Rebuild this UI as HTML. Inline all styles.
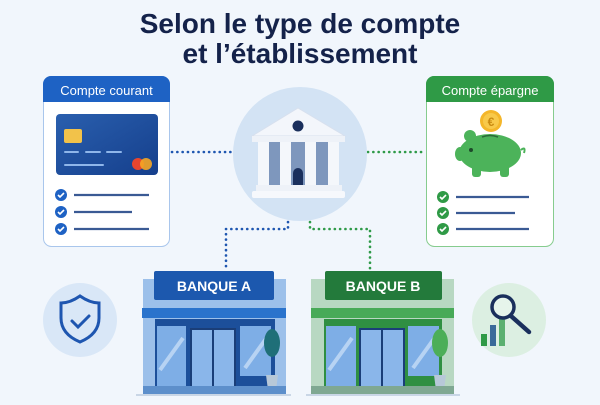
<!DOCTYPE html>
<html><head><meta charset="utf-8"><style>
body{margin:0;width:600px;height:400px;overflow:hidden;background:#f1f6fc;font-family:"Liberation Sans",sans-serif}
</style></head><body>
<svg width="600" height="400" viewBox="0 0 600 400" xmlns="http://www.w3.org/2000/svg">
<defs>
<linearGradient id="cg" x1="0" y1="0" x2="1" y2="1"><stop offset="0" stop-color="#2a5fae"/><stop offset="1" stop-color="#153f8c"/></linearGradient>
</defs>
<rect width="600" height="400" fill="#f1f6fc"/>
<text x="300" y="33" text-anchor="middle" font-size="28" font-weight="bold" fill="#14224a">Selon le type de compte</text>
<text x="300" y="63" text-anchor="middle" font-size="28" font-weight="bold" fill="#14224a">et l’établissement</text>

<!-- connectors -->
<g stroke-dasharray="0.1 5.2" stroke-linecap="round" stroke-width="2.6" fill="none">
<path d="M172 152 H232" stroke="#1e56b0"/>
<path d="M288 222 V229 H226 V270" stroke="#1e56b0"/>
<path d="M368 152 H426" stroke="#2e9a48"/>
<path d="M310 222 V229 H370 V270" stroke="#2e9a48"/>
</g>

<!-- left card -->
<rect x="43.5" y="76.5" width="126" height="170" rx="8" fill="#fff" stroke="#a9c6ec"/>
<path d="M43 102 V84 a8 8 0 0 1 8 -8 h111 a8 8 0 0 1 8 8 V102 Z" fill="#1e62c4"/>
<text x="106.5" y="95" text-anchor="middle" font-size="13" fill="#fff">Compte courant</text>
<rect x="56" y="114" width="102" height="61" rx="4" fill="url(#cg)"/>
<rect x="64" y="129" width="18" height="14" rx="2" fill="#f2c24a"/>
<g stroke="#8fb6ea" stroke-width="2" stroke-linecap="round"><path d="M65 152h13M86 152h14M107 152h14M65 165h38"/></g>
<circle cx="138" cy="164" r="6" fill="#e8452e"/><circle cx="146" cy="164" r="6" fill="#f6a623" opacity=".9"/>
<g fill="#1e62c4"><circle cx="61" cy="195" r="6"/><circle cx="61" cy="212" r="6"/><circle cx="61" cy="229" r="6"/></g>
<g stroke="#fff" stroke-width="1.6" fill="none"><path d="M58 195l2 2 4-4M58 212l2 2 4-4M58 229l2 2 4-4"/></g>
<g stroke="#3a5a94" stroke-width="2.2"><path d="M74 195h75M74 212h58M74 229h75"/></g>

<!-- right card -->
<rect x="426.5" y="76.5" width="127" height="170" rx="8" fill="#fff" stroke="#86cc8e"/>
<path d="M426 102 V84 a8 8 0 0 1 8 -8 h112 a8 8 0 0 1 8 8 V102 Z" fill="#2f9a46"/>
<text x="490" y="95" text-anchor="middle" font-size="13" fill="#fff">Compte épargne</text>
<ellipse cx="490" cy="153" rx="31" ry="19" fill="#4cb35a"/>
<circle cx="470" cy="136" r="6" fill="#4cb35a"/>
<rect x="472" y="164" width="9" height="13" rx="3" fill="#4cb35a"/><rect x="500" y="164" width="9" height="13" rx="3" fill="#4cb35a"/>
<ellipse cx="460" cy="154" rx="5" ry="7" fill="#4cb35a"/>
<circle cx="471" cy="150" r="2" fill="#1d4a2a"/>
<path d="M521 150 q5 -4 3 3" stroke="#4cb35a" stroke-width="2" fill="none"/>
<path d="M482 137 q8 -3 16 0" stroke="#2a6a38" stroke-width="1.5" fill="none"/>
<circle cx="491" cy="121" r="11" fill="#f4b62a"/><circle cx="491" cy="121" r="8" fill="#f8c94a"/>
<text x="491" y="126" text-anchor="middle" font-size="12" font-weight="bold" fill="#c98a10">€</text>
<g fill="#2f9a46"><circle cx="443" cy="197" r="6"/><circle cx="443" cy="213" r="6"/><circle cx="443" cy="229" r="6"/></g>
<g stroke="#fff" stroke-width="1.6" fill="none"><path d="M440 197l2 2 4-4M440 213l2 2 4-4M440 229l2 2 4-4"/></g>
<g stroke="#3a5a94" stroke-width="2.2"><path d="M456 197h73M456 213h59M456 229h73"/></g>

<!-- center bank -->
<circle cx="300" cy="154" r="67" fill="#d3e3f4"/>
<path d="M298 108 L345 136 H252 Z" fill="#f3f6fb" stroke="#d7e0ee"/>
<rect x="252" y="136" width="93" height="6" fill="#eef2f8"/>
<circle cx="298" cy="126" r="5.5" fill="#1a2f5c"/>
<rect x="262" y="142" width="74" height="43" fill="#7e97bd"/>
<g fill="#f4f7fb"><rect x="258" y="142" width="11" height="43"/><rect x="280" y="142" width="11" height="43"/><rect x="305" y="142" width="11" height="43"/><rect x="328" y="142" width="11" height="43"/></g>
<path d="M293 185 v-12 a5 5 0 0 1 10 0 v12Z" fill="#1a2f5c"/>
<rect x="256" y="185" width="86" height="6" fill="#eef2f8"/>
<rect x="252" y="191" width="93" height="7" rx="2" fill="#f6f8fc"/>

<!-- shield -->
<circle cx="80" cy="320" r="37" fill="#d9e7f7"/>
<path d="M80 296 q10 7 19 7 v15 q0 16 -19 24 q-19 -8 -19 -24 v-15 q9 0 19 -7Z" fill="none" stroke="#1e56b0" stroke-width="3"/>
<path d="M72 321 l6 6 11 -11" fill="none" stroke="#1e56b0" stroke-width="3" stroke-linecap="round"/>

<!-- magnifier -->
<circle cx="509" cy="320" r="37" fill="#dcefe2"/>
<rect x="481" y="334" width="6" height="12" fill="#2f9a46"/><rect x="490" y="325" width="6" height="21" fill="#3a6a9a"/><rect x="499" y="318" width="6" height="28" fill="#5bb070"/>
<circle cx="503" cy="307" r="11" fill="rgba(255,255,255,.3)" stroke="#1a2f5c" stroke-width="3.5"/>
<path d="M511 316 l18 16" stroke="#1a2f5c" stroke-width="4.5" stroke-linecap="round"/>

<!-- bank A -->
<line x1="136" y1="395" x2="291" y2="395" stroke="#c9d6e6" stroke-width="2"/>
<rect x="143" y="279" width="143" height="115" fill="#9cc0ea"/>
<rect x="154" y="271" width="120" height="29" rx="2" fill="#1c58ae"/>
<text x="214" y="291" text-anchor="middle" font-size="14" font-weight="bold" fill="#fff">BANQUE A</text>
<rect x="142" y="308" width="144" height="10" fill="#2a73cc"/>
<rect x="155" y="319" width="120" height="70" fill="#1c4f9a"/>
<rect x="157" y="326" width="29" height="60" fill="#7eaee6"/>
<rect x="240" y="326" width="31" height="50" fill="#7eaee6"/>
<rect x="190" y="328" width="46" height="60" fill="#1a3e78"/>
<rect x="192" y="330" width="20" height="56" fill="#8ab6ea"/><rect x="214" y="330" width="20" height="56" fill="#8ab6ea"/>
<path d="M160 370 L183 338 M245 368 L268 336" stroke="#b7d3f3" stroke-width="4"/>
<ellipse cx="272" cy="343" rx="8" ry="14" fill="#1f6f78"/>
<path d="M266 375 h12 l-2 15 h-8Z" fill="#b7c8d8"/>
<rect x="143" y="386" width="143" height="8" fill="#5d8fcb"/>

<!-- bank B -->
<line x1="306" y1="395" x2="460" y2="395" stroke="#c9d6e6" stroke-width="2"/>
<rect x="311" y="279" width="143" height="115" fill="#b8d8c2"/>
<rect x="325" y="271" width="117" height="29" rx="2" fill="#237a3b"/>
<text x="383" y="291" text-anchor="middle" font-size="14" font-weight="bold" fill="#fff">BANQUE B</text>
<rect x="311" y="308" width="143" height="10" fill="#48aa58"/>
<rect x="324" y="319" width="118" height="70" fill="#2f8f42"/>
<rect x="326" y="326" width="30" height="60" fill="#7eaee6"/>
<rect x="408" y="326" width="31" height="50" fill="#7eaee6"/>
<rect x="359" y="328" width="46" height="60" fill="#1a3e78"/>
<rect x="361" y="330" width="20" height="56" fill="#8ab6ea"/><rect x="383" y="330" width="20" height="56" fill="#8ab6ea"/>
<path d="M329 370 L352 338 M413 368 L436 336" stroke="#b7d3f3" stroke-width="4"/>
<ellipse cx="440" cy="343" rx="8" ry="14" fill="#4cae58"/>
<path d="M434 375 h12 l-2 15 h-8Z" fill="#b7c8d8"/>
<rect x="311" y="386" width="143" height="8" fill="#7fa892"/>
</svg>
</body></html>
